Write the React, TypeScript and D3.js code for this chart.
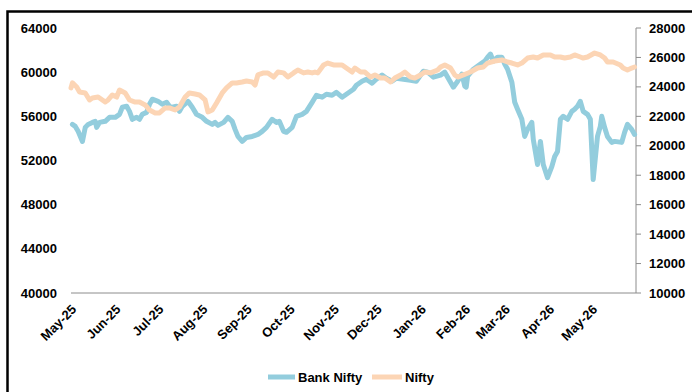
import * as d3 from "d3";

// month labels on the date axis
const monthStarts = ["25-05-01", "25-06-01", "25-07-01", "25-08-01", "25-09-01", "25-10-01", "25-11-01",
  "25-12-01", "26-01-01", "26-02-01", "26-03-01", "26-04-01", "26-05-01"];
const leftTicks = [40000, 44000, 48000, 52000, 56000, 60000, 64000];
const rightTicks = [10000, 12000, 14000, 16000, 18000, 20000, 22000, 24000, 26000, 28000];

// Bank Nifty (left axis)
const bankDates = [
  "25-05-02", "25-05-04", "25-05-06", "25-05-09", "25-05-11", "25-05-13", "25-05-16", "25-05-18", "25-05-19", "25-05-21",
  "25-05-25", "25-05-28", "25-06-01", "25-06-04", "25-06-06", "25-06-09", "25-06-11", "25-06-13", "25-06-16", "25-06-18",
  "25-06-20", "25-06-23", "25-06-25", "25-06-27", "25-07-01", "25-07-04", "25-07-07", "25-07-09", "25-07-11", "25-07-14",
  "25-07-16", "25-07-18", "25-07-22", "25-07-25", "25-07-28", "25-08-01", "25-08-04", "25-08-08", "25-08-10", "25-08-12",
  "25-08-16", "25-08-19", "25-08-22", "25-08-24", "25-08-26", "25-08-29", "25-09-01", "25-09-05", "25-09-09", "25-09-12",
  "25-09-15", "25-09-19", "25-09-22", "25-09-24", "25-09-27", "25-09-29", "25-10-03", "25-10-06", "25-10-10", "25-10-13",
  "25-10-17", "25-10-20", "25-10-24", "25-10-27", "25-10-31", "25-11-03", "25-11-07", "25-11-10", "25-11-15", "25-11-17",
  "25-11-21", "25-11-24", "25-11-28", "25-12-01", "25-12-05", "25-12-08", "25-12-12", "25-12-15", "25-12-20", "25-12-25",
  "25-12-29", "26-01-03", "26-01-06", "26-01-10", "26-01-15", "26-01-18", "26-01-22", "26-01-24", "26-01-27", "26-01-30",
  "26-02-01", "26-02-02", "26-02-03", "26-02-07", "26-02-12", "26-02-15", "26-02-17", "26-02-19", "26-02-21", "26-02-24",
  "26-02-27", "26-03-01", "26-03-03", "26-03-06", "26-03-08", "26-03-10", "26-03-13", "26-03-15", "26-03-17", "26-03-20",
  "26-03-21", "26-03-24", "26-03-26", "26-03-28", "26-03-31", "26-04-03", "26-04-05", "26-04-07", "26-04-09", "26-04-11",
  "26-04-14", "26-04-17", "26-04-19", "26-04-21", "26-04-23", "26-04-25", "26-04-28", "26-04-30", "26-05-02", "26-05-05",
  "26-05-07", "26-05-08", "26-05-10", "26-05-12", "26-05-15", "26-05-17", "26-05-22", "26-05-24", "26-05-26", "26-05-29",
  "26-05-31"];
const bankValues = [
  55270, 55090, 54640, 53730, 55000, 55270, 55450, 55550, 55000, 55450,
  55550, 55910, 55910, 56180, 56820, 56910, 56450, 55730, 55910, 55730,
  56180, 56360, 57090, 57550, 57360, 57090, 57270, 56910, 56820, 56910,
  56450, 56910, 57360, 56820, 56180, 55910, 55550, 55270, 55450, 55180,
  55450, 55910, 55550, 54820, 54180, 53730, 54090, 54180, 54360, 54640,
  55000, 55730, 55450, 55550, 54640, 54550, 55000, 56000, 56180, 56450,
  57270, 57910, 57730, 58000, 57910, 58180, 57730, 58000, 58450, 58820,
  59180, 59360, 59000, 59360, 59730, 59450, 59180, 59450, 59360, 59270,
  59180, 60090, 60000, 59550, 59730, 60000, 59090, 58640, 59180, 59820,
  58730, 58640, 59640, 60270, 60730, 61000, 61360, 61640, 61000, 61360,
  61360, 60730, 60270, 59090, 57270, 56640, 55730, 54180, 54820, 55450,
  53910, 51640, 53730, 51640, 50450, 51450, 52360, 52820, 55730, 56000,
  55730, 56450, 56640, 56910, 57360, 56450, 56180, 55730, 50270, 54180,
  55090, 56000, 55000, 54180, 53640, 53730, 53640, 54550, 55270, 54820,
  54360];

// Nifty (right axis)
const niftyDates = [
  "25-05-01", "25-05-02", "25-05-05", "25-05-07", "25-05-11", "25-05-14", "25-05-16", "25-05-20", "25-05-23", "25-05-25",
  "25-05-27", "25-05-30", "25-06-02", "25-06-04", "25-06-08", "25-06-11", "25-06-15", "25-06-18", "25-06-22", "25-06-25",
  "25-06-29", "25-07-02", "25-07-06", "25-07-09", "25-07-13", "25-07-16", "25-07-20", "25-07-23", "25-07-27", "25-07-30",
  "25-08-03", "25-08-05", "25-08-08", "25-08-11", "25-08-15", "25-08-18", "25-08-22", "25-08-25", "25-08-29", "25-09-01",
  "25-09-05", "25-09-07", "25-09-09", "25-09-13", "25-09-16", "25-09-20", "25-09-23", "25-09-27", "25-09-30", "25-10-04",
  "25-10-07", "25-10-11", "25-10-14", "25-10-17", "25-10-19", "25-10-21", "25-10-25", "25-10-28", "25-11-01", "25-11-04",
  "25-11-07", "25-11-10", "25-11-14", "25-11-16", "25-11-20", "25-11-23", "25-11-27", "25-11-30", "25-12-04", "25-12-07",
  "25-12-11", "25-12-14", "25-12-18", "25-12-21", "25-12-25", "25-12-28", "26-01-01", "26-01-04", "26-01-08", "26-01-13",
  "26-01-15", "26-01-18", "26-01-22", "26-01-25", "26-01-27", "26-01-31", "26-02-05", "26-02-10", "26-02-14", "26-02-17",
  "26-02-22", "26-02-27", "26-03-03", "26-03-06", "26-03-10", "26-03-13", "26-03-17", "26-03-21", "26-03-24", "26-03-28",
  "26-04-02", "26-04-05", "26-04-09", "26-04-12", "26-04-16", "26-04-19", "26-04-23", "26-04-25", "26-04-28", "26-05-03",
  "26-05-07", "26-05-10", "26-05-12", "26-05-16", "26-05-21", "26-05-23", "26-05-26", "26-05-29", "26-05-31"];
const niftyValues = [
  23930, 24270, 23990, 23650, 23590, 23110, 23250, 23310, 23110, 22970,
  23110, 23450, 23310, 23790, 23590, 23110, 22970, 22970, 22770, 22430,
  22230, 22230, 22570, 22570, 22430, 22640, 23310, 23590, 23520, 23450,
  23110, 22300, 22430, 22910, 23590, 23930, 24270, 24270, 24330, 24400,
  24330, 24130, 24810, 24950, 24950, 24670, 25010, 24950, 24670, 24950,
  25150, 24950, 25010, 24950, 25010, 24950, 25490, 25620, 25490, 25490,
  25490, 25280, 25010, 25280, 25010, 25010, 24670, 24810, 24600, 24600,
  24330, 24600, 24810, 25010, 24670, 24600, 24810, 25010, 24950, 25150,
  25350, 25490, 25280, 24810, 24670, 24810, 25010, 25280, 25350, 25620,
  25760, 25830, 25690, 25620, 25490, 25620, 25960, 26030, 25960, 26170,
  26170, 26030, 26030, 25960, 26030, 26170, 26030, 25960, 26030, 26300,
  26170, 25960, 25690, 25690, 25490, 25280, 25150, 25280, 25350];

const BLUE = "#93CDDD";
const ORANGE = "#FCD5B5";
const AXIS = "#8C8C8C";
const FONT = "'Liberation Sans', Arial, sans-serif";

const parse = d3.timeParse("%y-%m-%d");

export default function App() {
  const width = 692;
  const height = 392;
  const plot = { left: 71, right: 636, top: 28, bottom: 293 };

  const x = d3
    .scaleTime()
    .domain([parse("25-05-01") as Date, parse("26-06-01") as Date])
    .range([plot.left, plot.right]);
  const yLeft = d3.scaleLinear().domain([40000, 64000]).range([plot.bottom, plot.top]);
  const yRight = d3.scaleLinear().domain([10000, 28000]).range([plot.bottom, plot.top]);

  const bank = bankDates.map((d, i) => ({ date: parse(d) as Date, value: bankValues[i] }));
  const nifty = niftyDates.map((d, i) => ({ date: parse(d) as Date, value: niftyValues[i] }));

  const bankLine = d3
    .line<{ date: Date; value: number }>()
    .x((d) => x(d.date))
    .y((d) => yLeft(d.value));
  const niftyLine = d3
    .line<{ date: Date; value: number }>()
    .x((d) => x(d.date))
    .y((d) => yRight(d.value));

  const fmt = d3.timeFormat("%b-%y");

  return (
    <svg
      width={width}
      height={height}
      style={{ position: "absolute", left: 0, top: 0, background: "#fff" }}
      fontFamily={FONT}
      fontWeight="bold"
    >
      <rect x={0} y={0} width={width} height={height} fill="#fff" />
      {/* outer frame */}
      <rect x={7.5} y={11.5} width={720} height={420} fill="none" stroke="#000" strokeWidth={2.5} />

      {/* left axis labels (no line) */}
      {leftTicks.map((t) => (
        <text key={t} x={57} y={yLeft(t)} dy="0.35em" textAnchor="end" fontSize={13} fill="#000">
          {t}
        </text>
      ))}

      {/* right axis */}
      <line x1={plot.right} x2={plot.right} y1={plot.top} y2={plot.bottom} stroke={AXIS} strokeWidth={1} />
      {rightTicks.map((t) => (
        <g key={t}>
          <line x1={plot.right} x2={plot.right + 5} y1={yRight(t)} y2={yRight(t)} stroke={AXIS} strokeWidth={1} />
          <text x={649} y={yRight(t)} dy="0.35em" fontSize={13} fill="#000">
            {t}
          </text>
        </g>
      ))}

      {/* bottom axis */}
      <line x1={plot.left} x2={plot.right} y1={plot.bottom} y2={plot.bottom} stroke={AXIS} strokeWidth={1} />
      {monthStarts.map((m) => {
        const d = parse(m) as Date;
        return (
          <text
            key={m}
            transform={`translate(${x(d) + 3},${plot.bottom + 14}) rotate(-45)`}
            textAnchor="end"
            dy="0.35em"
            fontSize={13}
            fill="#000"
          >
            {fmt(d)}
          </text>
        );
      })}

      {/* series */}
      <path d={bankLine(bank) ?? ""} fill="none" stroke={BLUE} strokeWidth={5} strokeLinejoin="round" strokeLinecap="round" />
      <path d={niftyLine(nifty) ?? ""} fill="none" stroke={ORANGE} strokeWidth={5} strokeLinejoin="round" strokeLinecap="round" />

      {/* legend */}
      <g transform="translate(268,377)">
        <line x1={0} x2={27} y1={0} y2={0} stroke={BLUE} strokeWidth={5} />
        <text x={30} y={0} dy="0.35em" fontSize={13} fill="#000">Bank Nifty</text>
        <line x1={104} x2={134} y1={0} y2={0} stroke={ORANGE} strokeWidth={5} />
        <text x={137} y={0} dy="0.35em" fontSize={13} fill="#000">Nifty</text>
      </g>
    </svg>
  );
}
